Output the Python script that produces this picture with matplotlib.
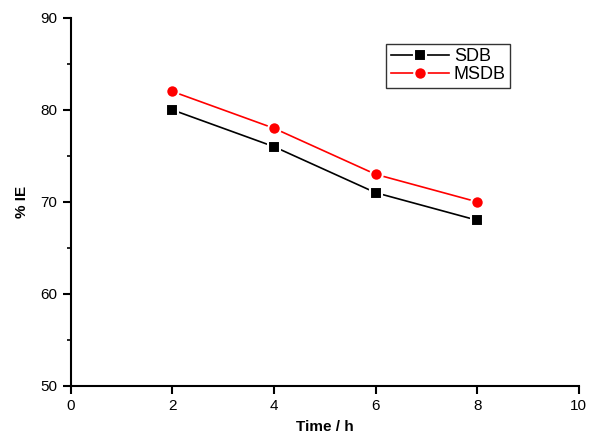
import matplotlib.pyplot as plt

plt.rcParams['font.family'] = ['Liberation Sans', 'DejaVu Sans']

time_h = [2, 4, 6, 8]
sdb = [80, 76, 71, 68]
msdb = [82, 78, 73, 70]

fig = plt.figure(figsize=(5.9, 4.36), dpi=100)
ax = fig.add_axes([0.120, 0.115, 0.861, 0.844])

ax.plot(time_h, sdb, color='black', lw=1.2, marker='s', ms=8,
        mfc='black', mec='white', mew=1.5, label='SDB')
ax.plot(time_h, msdb, color='red', lw=1.2, marker='o', ms=9,
        mfc='red', mec='white', mew=1.5, label='MSDB')

ax.set_xlim(0, 10)
ax.set_ylim(50, 90)
ax.set_xticks([0, 2, 4, 6, 8, 10])
ax.set_yticks([50, 60, 70, 80, 90])
ax.set_yticks([55, 65, 75, 85], minor=True)

for s in ['top', 'right']:
    ax.spines[s].set_visible(False)
for s in ['left', 'bottom']:
    ax.spines[s].set_linewidth(1.5)
ax.tick_params(which='major', direction='out', length=6, width=1.5, labelsize=11)
ax.tick_params(axis='y', which='minor', direction='out', length=3, width=1.2)

ax.set_xlabel('Time / h', fontsize=11, fontweight='bold', labelpad=5)
ax.set_ylabel('% IE', fontsize=11, fontweight='bold', labelpad=8)

leg = ax.legend(loc='upper left', bbox_to_anchor=(0.621, 0.93), fontsize=13,
                frameon=True, fancybox=False, handlelength=3.2,
                borderpad=0.25, labelspacing=0.05, handletextpad=0.3,
                borderaxespad=0)
leg.get_frame().set_edgecolor('black')
leg.get_frame().set_linewidth(1.0)

fig.savefig('out.png', dpi=100)
